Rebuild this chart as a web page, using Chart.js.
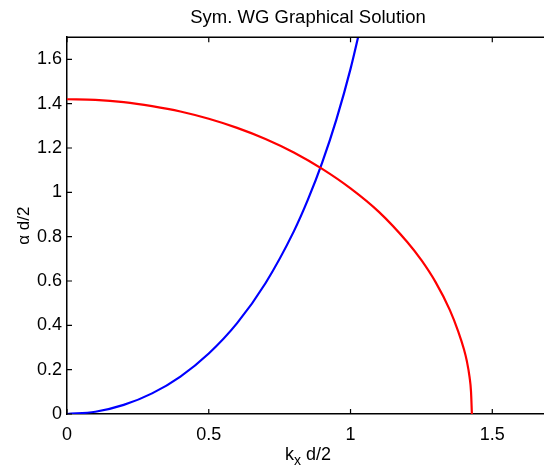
<!DOCTYPE html>
<html>
<head>
<meta charset="utf-8">
<script src="https://cdn.jsdelivr.net/npm/chart.js@4.4.1/dist/chart.umd.min.js"></script>
<style>
  html, body { margin: 0; padding: 0; background: #fff; overflow: hidden; }
  #wrap { width: 544px; height: 466px; overflow: hidden; }
</style>
</head>
<body>
<div id="wrap"><canvas id="wg" width="560" height="466"></canvas></div>
<script>
// red curve
const circX = [0, 0.1, 0.2, 0.3, 0.4, 0.5, 0.6, 0.7, 0.8, 0.9, 1.0, 1.1, 1.2, 1.25, 1.3, 1.35, 1.38, 1.40, 1.41, 1.42, 1.425, 1.428];
const circY = [1.42, 1.417, 1.407, 1.389, 1.365, 1.332, 1.291, 1.241, 1.180, 1.106, 1.018, 0.912, 0.776, 0.694, 0.595, 0.470, 0.372, 0.292, 0.240, 0.165, 0.100, 0];

// blue curve
const tanX = [0, 0.1, 0.2, 0.3, 0.4, 0.5, 0.6, 0.7, 0.8, 0.85, 0.9, 0.95, 1.0, 1.05];
const tanY = [0, 0.010, 0.041, 0.093, 0.169, 0.273, 0.410, 0.590, 0.824, 0.968, 1.134, 1.328, 1.557, 1.830];

const xTicks = [0, 0.5, 1, 1.5];
const yTicks = [0, 0.2, 0.4, 0.6, 0.8, 1, 1.2, 1.4, 1.6];

const FONT = "'Liberation Sans', Arial, Helvetica, sans-serif";

function pts(xs, ys) {
  return xs.map((x, i) => ({ x: x, y: ys[i] }));
}

// inward ticks + top box edge + x label with subscript
const matlabBits = {
  id: "matlabBits",
  afterDraw(chart) {
    const c = chart.ctx;
    const a = chart.chartArea;
    const xs = chart.scales.x;
    const ys = chart.scales.y;
    c.save();
    c.strokeStyle = "#000";
    c.lineWidth = 1.5;
    c.beginPath();
    c.moveTo(a.left, a.top);
    c.lineTo(a.right, a.top);
    c.stroke();
    c.lineWidth = 1.2;
    c.beginPath();
    xs.ticks.forEach(t => {
      const px = xs.getPixelForValue(t.value);
      c.moveTo(px, a.bottom);
      c.lineTo(px, a.bottom - 5);
      c.moveTo(px, a.top);
      c.lineTo(px, a.top + 5);
    });
    ys.ticks.forEach(t => {
      const py = ys.getPixelForValue(t.value);
      c.moveTo(a.left, py);
      c.lineTo(a.left + 5, py);
    });
    c.stroke();

    // x label: k_x d/2
    c.fillStyle = "#000";
    c.textBaseline = "alphabetic";
    c.textAlign = "left";
    const big = "18px " + FONT;
    const small = "14px " + FONT;
    c.font = big;
    const wk = c.measureText("k").width;
    const wd = c.measureText(" d/2").width;
    c.font = small;
    const wx = c.measureText("x").width;
    const total = wk + wx + wd;
    let x0 = (a.left + a.right) / 2 - total / 2;
    const base = 460;
    c.font = big;
    c.fillText("k", x0, base);
    c.font = small;
    c.fillText("x", x0 + wk, base + 5);
    c.font = big;
    c.fillText(" d/2", x0 + wk + wx, base);
    c.restore();
  }
};

new Chart(document.getElementById("wg"), {
  type: "scatter",
  data: {
    datasets: [
      {
        label: "circle",
        data: pts(circX, circY),
        showLine: true,
        borderColor: "#ff0000",
        borderWidth: 2.2,
        pointRadius: 0,
        cubicInterpolationMode: "monotone"
      },
      {
        label: "xtanx",
        data: pts(tanX, tanY),
        showLine: true,
        borderColor: "#0000ff",
        borderWidth: 2.2,
        pointRadius: 0,
        cubicInterpolationMode: "monotone"
      }
    ]
  },
  options: {
    responsive: false,
    animation: false,
    layout: { padding: { left: 0, top: 0, bottom: 0, right: 11 } },
    plugins: {
      legend: { display: false },
      tooltip: { enabled: false },
      title: {
        display: true,
        text: "Sym. WG Graphical Solution",
        fullSize: false,
        color: "#000",
        font: { family: FONT, size: 18.5, weight: "normal" },
        padding: { top: 7, bottom: 8 }
      }
    },
    scales: {
      x: {
        type: "linear",
        min: 0,
        max: 1.7,
        afterFit(s) { s.height = 52; },
        afterBuildTicks(s) { s.ticks = xTicks.map(v => ({ value: v })); },
        ticks: {
          color: "#000",
          padding: 10,
          maxRotation: 0,
          font: { family: FONT, size: 18 },
          callback: v => String(v)
        },
        grid: { display: false, drawTicks: false },
        border: { display: true, color: "#000", width: 1.5 }
      },
      y: {
        type: "linear",
        min: 0,
        max: 1.7,
        afterFit(s) { s.width = 67; },
        afterBuildTicks(s) { s.ticks = yTicks.map(v => ({ value: v })); },
        ticks: {
          color: "#000",
          padding: 5,
          font: { family: FONT, size: 18 },
          callback: v => String(+v.toFixed(1))
        },
        grid: { display: false, drawTicks: false },
        border: { display: true, color: "#000", width: 1.5 },
        title: {
          display: true,
          text: "α d/2",
          color: "#000",
          font: { family: FONT, size: 17 },
          padding: { top: 14, bottom: 0 }
        }
      }
    }
  },
  plugins: [matlabBits]
});
</script>
</body>
</html>
